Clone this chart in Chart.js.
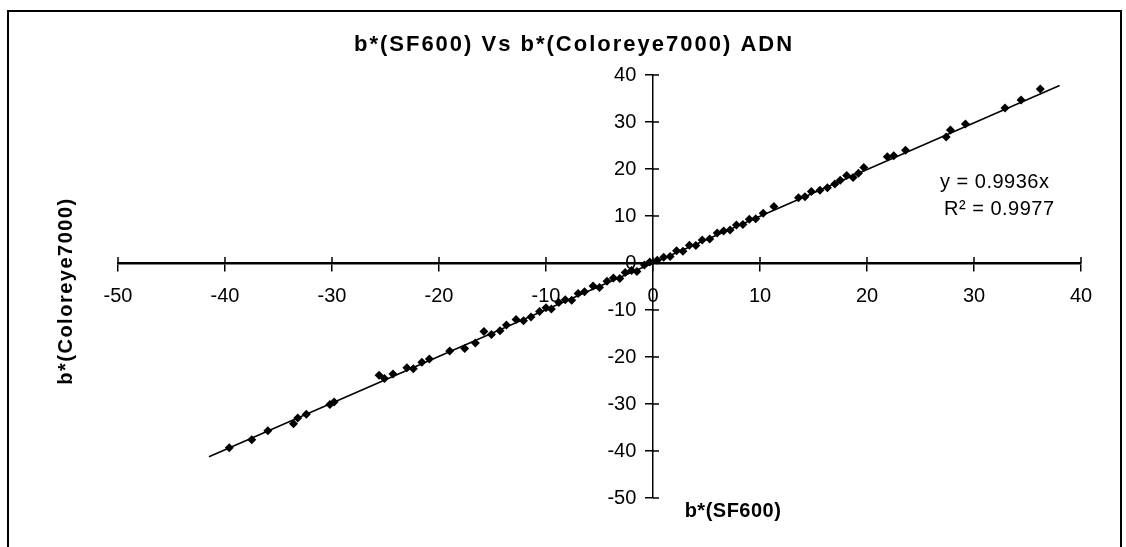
<!DOCTYPE html>
<html>
<head>
<meta charset="utf-8">
<script src="https://cdn.jsdelivr.net/npm/chart.js@4/dist/chart.umd.min.js"></script>
<style>
  body { margin: 0; background: #fff; }
  #wrap { width: 1126px; height: 547px; position: relative; }
</style>
</head>
<body>
<div id="wrap"><canvas id="bChart"></canvas></div>
<script>
// b* readings, SF600 (x) vs Coloreye7000 (y)
const sf600 = [-39.6, -37.5, -36.0, -33.6, -33.2, -32.4, -30.2, -29.8, -25.6, -25.1,
  -24.3, -23.0, -22.4, -21.6, -20.9, -19.0, -17.6, -16.6, -15.8, -15.1,
  -14.3, -13.7, -12.8, -12.1, -11.4, -10.6, -10.0, -9.5, -8.8, -8.2,
  -7.6, -7.0, -6.4, -5.6, -5.0, -4.3, -3.7, -3.1, -2.6, -2.0,
  -1.5, -0.8, -0.3, 0.4, 1.0, 1.6, 2.2, 2.8, 3.4, 4.0,
  4.6, 5.3, 6.0, 6.6, 7.2, 7.8, 8.4, 9.0, 9.6, 10.3,
  11.3, 13.6, 14.2, 14.8, 15.6, 16.3, 17.0, 17.5, 18.1, 18.7,
  19.2, 19.7, 21.9, 22.5, 23.6, 27.4, 27.8, 29.2, 32.9, 34.4, 36.2];
const coloreye = [-39.3, -37.6, -35.7, -34.2, -33.0, -32.2, -30.1, -29.6, -23.9, -24.6,
  -23.6, -22.3, -22.5, -21.1, -20.4, -18.7, -18.2, -17.0, -14.6, -15.2,
  -14.4, -13.2, -12.0, -12.3, -11.5, -10.3, -9.5, -9.8, -8.4, -7.8,
  -7.9, -6.5, -6.1, -4.9, -5.2, -3.9, -3.2, -3.3, -2.0, -1.6,
  -1.8, -0.4, 0.2, 0.6, 1.2, 1.4, 2.6, 2.5, 3.8, 3.7,
  4.9, 5.1, 6.4, 6.8, 7.0, 8.1, 8.2, 9.3, 9.4, 10.6,
  12.0, 13.9, 14.1, 15.2, 15.5, 16.0, 16.8, 17.6, 18.6, 18.2,
  19.1, 20.3, 22.6, 22.8, 24.0, 26.8, 28.3, 29.6, 33.0, 34.7, 37.0];

// linear trendline through origin, as printed on the chart
const slope = 0.9936;
const trendX = [-41.5, 38];
const eqLines = ['y = 0.9936x', 'R\u00b2 = 0.9977'];

const xMin = -50, xMax = 40, yMin = -50, yMax = 40;

const points = sf600.map((v, i) => ({ x: v, y: coloreye[i] }));
const trend = trendX.map(v => ({ x: v, y: slope * v }));

Chart.defaults.font.family = '"Liberation Sans", Arial, sans-serif';
Chart.defaults.color = '#000';

// title, axis titles, equation, frame and the other half of the cross ticks
const textPlugin = {
  id: 'textPlugin',
  afterDraw(chart) {
    const c = chart.ctx;
    const xs = chart.scales.x, ys = chart.scales.y;
    const x0 = xs.getPixelForValue(0), y0 = ys.getPixelForValue(0);
    c.save();
    c.fillStyle = '#000';
    c.strokeStyle = '#000';

    c.lineWidth = 1.5;
    c.beginPath();
    xs.ticks.forEach(t => {
      const px = xs.getPixelForValue(t.value);
      c.moveTo(px, y0);
      c.lineTo(px, y0 - 6);
    });
    ys.ticks.forEach(t => {
      const py = ys.getPixelForValue(t.value);
      c.moveTo(x0, py);
      c.lineTo(x0 + 6, py);
    });
    c.stroke();

    c.lineWidth = 2;
    c.strokeRect(8, 11, 1113, 545);

    c.textAlign = 'center';
    c.textBaseline = 'middle';
    c.font = 'bold 22px "Liberation Sans", Arial, sans-serif';
    c.letterSpacing = '2px';
    c.fillText('b*(SF600) Vs b*(Coloreye7000) ADN', 574, 45);

    c.font = 'bold 20px "Liberation Sans", Arial, sans-serif';
    c.letterSpacing = '0.5px';
    c.fillText('b*(SF600)', 733, 511);

    c.save();
    c.translate(66, 291);
    c.rotate(-Math.PI / 2);
    c.letterSpacing = '1.5px';
    c.fillText('b*(Coloreye7000)', 0, 0);
    c.restore();

    c.textAlign = 'left';
    c.font = '20px "Liberation Sans", Arial, sans-serif';
    c.letterSpacing = '0.5px';
    c.fillText(eqLines[0], 940, 182);
    c.fillText(eqLines[1], 944, 209);
    c.restore();
  }
};

const ctx = document.getElementById('bChart').getContext('2d');
const bChart = new Chart(ctx, {
  type: 'scatter',
  data: {
    datasets: [{
      label: 'b*',
      data: points,
      pointStyle: 'rectRot',
      pointRadius: 4.5,
      backgroundColor: '#000',
      borderColor: '#000',
      borderWidth: 0
    }, {
      type: 'line',
      label: 'Linear',
      data: trend,
      borderColor: '#000',
      borderWidth: 1.5,
      pointRadius: 0,
      fill: false
    }]
  },
  options: {
    responsive: true,
    maintainAspectRatio: false,
    animation: false,
    layout: { padding: { left: 118, right: 45, top: 75, bottom: 49 } },
    plugins: {
      legend: { display: false },
      title: { display: false },
      tooltip: { enabled: false }
    },
    scales: {
      x: {
        type: 'linear',
        position: { y: 0 },
        min: xMin, max: xMax,
        ticks: { stepSize: 10, padding: 14, font: { size: 20 }, color: '#000' },
        grid: { drawOnChartArea: false, tickLength: 7, color: '#000', lineWidth: 1.5 },
        border: { color: '#000', width: 2.5 }
      },
      y: {
        type: 'linear',
        position: { x: 0 },
        min: yMin, max: yMax,
        ticks: {
          stepSize: 10, font: { size: 20 }, color: '#000',
          // centred axis puts labels flush on the line, pad them off it
          callback: v => v + '   '
        },
        grid: { drawOnChartArea: false, tickLength: 7, color: '#000', lineWidth: 1.5 },
        border: { color: '#000', width: 1.5 }
      }
    }
  },
  plugins: [textPlugin]
});
</script>
</body>
</html>
